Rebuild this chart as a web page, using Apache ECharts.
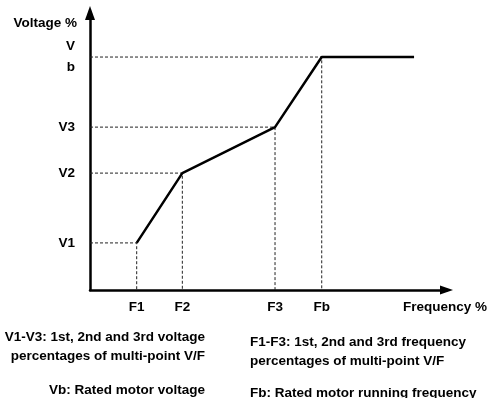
<!DOCTYPE html>
<html>
<head>
<meta charset="utf-8">
<script src="https://cdn.jsdelivr.net/npm/echarts@6/dist/echarts.min.js"></script>
<style>html,body{margin:0;padding:0;background:#fff}#c{width:490px;height:398px}</style>
</head>
<body>
<div id="c"></div>
<script>
// Frequency break points (% of axis range)
const freqNames = ['F1', 'F2', 'F3', 'Fb'];
const freqValues = [13.1, 25.9, 51.9, 65.0];
const freqEnd = 90.9;
// Voltage break points (% of axis range)
const voltNames = ['V1', 'V2', 'V3', 'V\nb'];
const voltValues = [17.0, 42.2, 58.8, 84.1];
const xAxisName = 'Frequency %';
const yAxisName = 'Voltage %';
const notesLeft = ['V1-V3: 1st, 2nd and 3rd voltage', 'percentages of multi-point V/F', 'Vb: Rated motor voltage'];
const notesRight = ['F1-F3: 1st, 2nd and 3rd frequency', 'percentages of multi-point V/F', 'Fb: Rated motor running frequency'];

const FONT = 'Liberation Sans, Arial, sans-serif';
const FS = 13.5;
const TXT = '#000';

const chart = echarts.init(document.getElementById('c'), null, {renderer: 'canvas'});

const mainData = freqValues.map((f, i) => [f, voltValues[i]]);
mainData.push([freqEnd, voltValues[3]]);

const guideSeries = freqValues.map((f, i) => ({
  type: 'line',
  data: [[0, voltValues[i]], [f, voltValues[i]], [f, 0]],
  showSymbol: false,
  silent: true,
  z: 2,
  lineStyle: {color: '#222', width: 1, type: [3, 2]}
}));

function nearestName(v, vals, names) {
  let best = 0;
  for (let i = 1; i < vals.length; i++) if (Math.abs(vals[i] - v) < Math.abs(vals[best] - v)) best = i;
  return names[best];
}

const textStyleBase = {fontFamily: FONT, fontWeight: 'bold', fontSize: FS, color: TXT};

const graphics = [];
const leftY = [337, 356, 390];
const rightY = [342, 361, 393];
notesLeft.forEach((t, i) => graphics.push({
  type: 'text', x: 205, y: leftY[i],
  style: {text: t, textAlign: 'right', textVerticalAlign: 'middle', font: 'bold ' + FS + 'px ' + FONT, fill: TXT}
}));
notesRight.forEach((t, i) => graphics.push({
  type: 'text', x: 250, y: rightY[i],
  style: {text: t, textAlign: 'left', textVerticalAlign: 'middle', font: 'bold ' + FS + 'px ' + FONT, fill: TXT}
}));

chart.setOption({
  animation: false,
  backgroundColor: '#fff',
  grid: {left: 90, right: 41.5, top: 13, bottom: 108, containLabel: false},
  xAxis: {
    type: 'value', min: 0, max: 100,
    name: xAxisName, nameLocation: 'end', nameGap: 40.5,
    nameTextStyle: Object.assign({}, textStyleBase, {align: 'right', verticalAlign: 'top', lineHeight: 34}),
    axisLine: {show: true, onZero: false, symbol: ['none', 'triangle'], symbolSize: [9, 13], lineStyle: {color: '#000', width: 2.5}},
    axisTick: {show: false},
    splitLine: {show: false},
    axisLabel: Object.assign({}, textStyleBase, {
      customValues: freqValues, margin: 10,
      formatter: v => nearestName(v, freqValues, freqNames)
    })
  },
  yAxis: {
    type: 'value', min: 0, max: 100,
    name: yAxisName, nameLocation: 'end', nameGap: -10,
    nameTextStyle: Object.assign({}, textStyleBase, {align: 'right', verticalAlign: 'middle', padding: [0, 13, 0, 0]}),
    axisLine: {show: true, onZero: false, symbol: ['none', 'triangle'], symbolSize: [10, 14], lineStyle: {color: '#000', width: 2.5}},
    axisTick: {show: false},
    splitLine: {show: false},
    axisLabel: Object.assign({}, textStyleBase, {
      customValues: voltValues, margin: 15, align: 'right', lineHeight: 21, padding: [3, 0, 0, 0],
      formatter: v => nearestName(v, voltValues, voltNames)
    })
  },
  series: guideSeries.concat([{
    type: 'line',
    data: mainData,
    showSymbol: false,
    silent: true,
    z: 5,
    lineStyle: {color: '#000', width: 2.5}
  }]),
  graphic: graphics
});
</script>
</body>
</html>
